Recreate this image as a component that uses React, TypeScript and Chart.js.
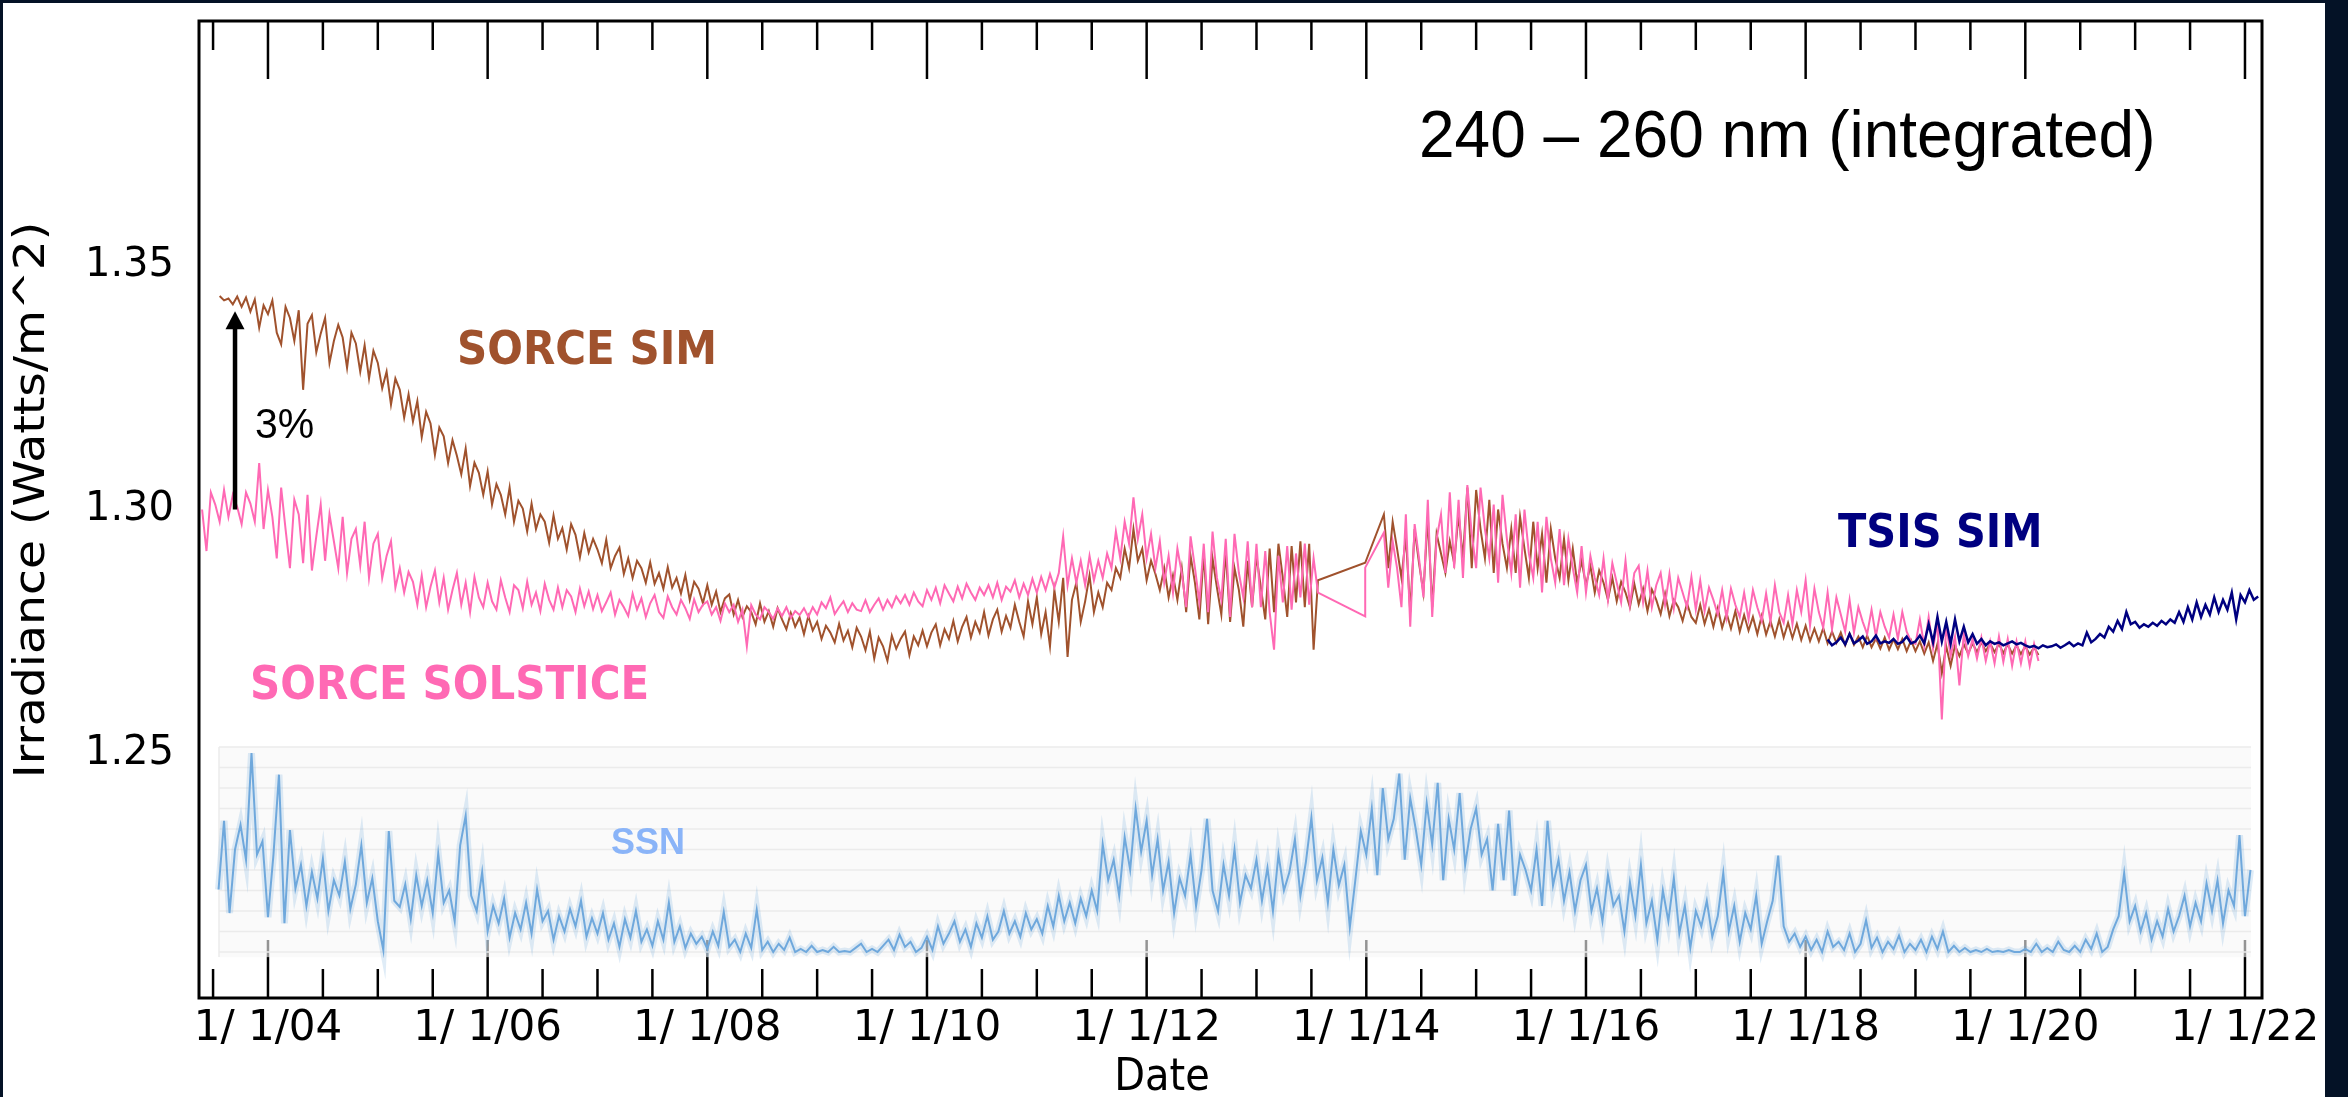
import React, { useEffect, useRef } from "react";
import Chart from "chart.js/auto";

// ---------- axis ranges / tick labels ----------
const X_MIN = 2003.372;
const X_MAX = 2022.155;
const Y_MIN = 1.2;
const Y_MAX = 1.4;
const X_LABEL_YEARS = [2004, 2006, 2008, 2010, 2012, 2014, 2016, 2018, 2020, 2022];
const Y_LABEL_VALUES = [1.25, 1.3, 1.35];

// ---------- SORCE SIM (W/m^2), cadence 0.04 yr ----------
const CADENCE = 0.04;
const SIM_START_1 = 2003.56;
const SIM_VALUES_1 = [
  1.3437, 1.3428, 1.3432, 1.3420, 1.3436, 1.3415, 1.3434, 1.3405, 1.3430, 1.3372, 1.3418,
  1.3400, 1.3428, 1.3362, 1.3338, 1.3415, 1.3392, 1.3345, 1.3408, 1.3245, 1.3380, 1.3398, 1.3322, 1.3360, 1.3392, 1.3300, 1.3345, 1.3378, 1.3352, 1.3290, 1.3362, 1.3340, 1.3282, 1.3336, 1.3268, 1.3325,
  1.3300, 1.3248, 1.3282, 1.3215, 1.3268, 1.3245, 1.3188, 1.3236, 1.3180, 1.3222, 1.3148, 1.3200, 1.3176, 1.3112, 1.3168, 1.3150, 1.3095, 1.3142, 1.3110, 1.3072, 1.3125, 1.3048, 1.3096, 1.3075, 1.3030,
  1.3078, 1.3010, 1.3052, 1.3030, 1.2990, 1.3045, 1.2975, 1.3018, 1.3002, 1.2955, 1.3012, 1.2960, 1.2990, 1.2975, 1.2932, 1.2988, 1.2940, 1.2962, 1.2918, 1.2970, 1.2948, 1.2902, 1.2952, 1.2912, 1.2940,
  1.2918, 1.2890, 1.2938, 1.2880, 1.2905, 1.2922, 1.2868, 1.2900, 1.2860, 1.2895, 1.2880, 1.2850, 1.2892, 1.2848, 1.2870, 1.2838, 1.2882, 1.2840, 1.2860, 1.2828, 1.2866, 1.2815, 1.2852, 1.2838, 1.2808,
  1.2845, 1.2805, 1.2832, 1.2790, 1.2818, 1.2826, 1.2785, 1.2815, 1.2780, 1.2802, 1.2790, 1.2765, 1.2808, 1.2770, 1.2792, 1.2760, 1.2798, 1.2775, 1.2755, 1.2788, 1.2760, 1.2779, 1.2745, 1.2782, 1.2752,
  1.2770, 1.2735, 1.2762, 1.2748, 1.2728, 1.2766, 1.2732, 1.2752, 1.2718, 1.2758, 1.2740, 1.2712, 1.2750, 1.2695, 1.2738, 1.2720, 1.2690, 1.2742, 1.2715, 1.2735, 1.2750, 1.2702, 1.2740, 1.2722, 1.2752,
  1.2720, 1.2748, 1.2765, 1.2722, 1.2755, 1.2735, 1.2772, 1.2730, 1.2760, 1.2780, 1.2738, 1.2770, 1.2748, 1.2790, 1.2742, 1.2775, 1.2795, 1.2750, 1.2782, 1.2758, 1.2805, 1.2770, 1.2740, 1.2812, 1.2765,
  1.2820, 1.2745, 1.2790, 1.2720, 1.2835, 1.2770, 1.2860, 1.2698, 1.2815, 1.2850, 1.2770, 1.2812, 1.2865, 1.2790, 1.2830, 1.2800, 1.2850, 1.2835, 1.2880, 1.2860, 1.2920, 1.2880, 1.2960, 1.2895, 1.2920,
  1.2855, 1.2895, 1.2868, 1.2835, 1.2880, 1.2820, 1.2865, 1.2815, 1.2880, 1.2790, 1.2905, 1.2850, 1.2775, 1.2910, 1.2765, 1.2900, 1.2840, 1.2785, 1.2915, 1.2770, 1.2880, 1.2835, 1.2760, 1.2895, 1.2800,
  1.2905, 1.2840, 1.2775, 1.2920, 1.2790, 1.2930, 1.2860, 1.2780, 1.2925, 1.2810, 1.2935, 1.2800, 1.2930, 1.2713, 1.2855,
];
const SIM_GAP_YEARS = [2013.99];
const SIM_GAP_VALUES = [1.2891];
const SIM_START_2 = 2014.16;
const SIM_VALUES_2 = [
  1.2990, 1.2880, 1.2975, 1.2920, 1.2860, 1.2945, 1.2790, 1.2960, 1.2890, 1.2830, 1.2985, 1.2800, 1.2950, 1.2910, 1.2870, 1.2935, 1.2890, 1.2990, 1.2900, 1.3045, 1.2880,
  1.3040, 1.2960, 1.2900, 1.3020, 1.2870, 1.3000, 1.2930, 1.2880, 1.2960, 1.2870, 1.2985, 1.2920, 1.2860, 1.2975, 1.2880, 1.2950, 1.2850, 1.2960, 1.2900, 1.2860, 1.2940, 1.2855, 1.2920, 1.2850, 1.2895,
  1.2845, 1.2885, 1.2830, 1.2875, 1.2850, 1.2815, 1.2860, 1.2812, 1.2852, 1.2830, 1.2800, 1.2848, 1.2806, 1.2838, 1.2792, 1.2836, 1.2815, 1.2786, 1.2828, 1.2782, 1.2815, 1.2800, 1.2772, 1.2808, 1.2780,
  1.2768, 1.2805, 1.2766, 1.2796, 1.2760, 1.2798, 1.2758, 1.2788, 1.2756, 1.2792, 1.2750, 1.2784, 1.2752, 1.2780, 1.2745, 1.2782, 1.2744, 1.2772, 1.2740, 1.2775, 1.2738, 1.2768, 1.2737, 1.2766, 1.2733,
  1.2762, 1.2731, 1.2756, 1.2730, 1.2757, 1.2726, 1.2750, 1.2727, 1.2748, 1.2722, 1.2746, 1.2723, 1.2740, 1.2718, 1.2742, 1.2718, 1.2736, 1.2715, 1.2738, 1.2713, 1.2734, 1.2714, 1.2735, 1.2710, 1.2732,
  1.2710, 1.2730, 1.2705, 1.2728, 1.2690, 1.2725, 1.2665, 1.2720, 1.2680, 1.2722, 1.2700, 1.2724, 1.2705, 1.2726, 1.2708, 1.2728, 1.2710, 1.2726, 1.2708, 1.2725, 1.2706, 1.2724, 1.2705, 1.2722, 1.2704,
  1.2720, 1.2703, 1.2718, 1.2702,
];

// ---------- SORCE SOLSTICE (W/m^2), cadence 0.04 yr ----------
const SOL_START_1 = 2003.4;
const SOL_VALUES_1 = [
  1.3000, 1.2915, 1.3035, 1.3010, 1.2975, 1.3040, 1.2985, 1.3030, 1.3005, 1.2970, 1.3035, 1.3012, 1.2975, 1.3095, 1.2960,
  1.3040, 1.2985, 1.2900, 1.3045, 1.2960, 1.2880, 1.3020, 1.2990, 1.2890, 1.3030, 1.2875, 1.2945, 1.3010, 1.2895, 1.2990, 1.2935, 1.2880, 1.2985, 1.2870, 1.2940, 1.2960, 1.2885, 1.2975, 1.2860, 1.2930,
  1.2950, 1.2860, 1.2905, 1.2935, 1.2840, 1.2880, 1.2830, 1.2872, 1.2852, 1.2805, 1.2865, 1.2800, 1.2842, 1.2875, 1.2810, 1.2860, 1.2795, 1.2835, 1.2870, 1.2805, 1.2850, 1.2790, 1.2862, 1.2820, 1.2800,
  1.2850, 1.2812, 1.2795, 1.2855, 1.2820, 1.2790, 1.2845, 1.2835, 1.2798, 1.2852, 1.2805, 1.2830, 1.2792, 1.2848, 1.2815, 1.2795, 1.2840, 1.2800, 1.2835, 1.2822, 1.2790, 1.2838, 1.2802, 1.2832, 1.2796,
  1.2825, 1.2792, 1.2810, 1.2830, 1.2785, 1.2815, 1.2800, 1.2782, 1.2828, 1.2795, 1.2818, 1.2780, 1.2808, 1.2825, 1.2790, 1.2778, 1.2822, 1.2800, 1.2785, 1.2815, 1.2798, 1.2776, 1.2816, 1.2790, 1.2805,
  1.2812, 1.2785, 1.2800, 1.2772, 1.2808, 1.2790, 1.2805, 1.2770, 1.2795, 1.2720, 1.2804, 1.2785, 1.2775, 1.2800, 1.2790, 1.2776, 1.2798, 1.2782, 1.2800, 1.2778, 1.2792, 1.2784, 1.2798, 1.2780, 1.2800,
  1.2785, 1.2810, 1.2798, 1.2820, 1.2786, 1.2800, 1.2812, 1.2790, 1.2808, 1.2795, 1.2792, 1.2814, 1.2790, 1.2805, 1.2818, 1.2795, 1.2815, 1.2800, 1.2822, 1.2808, 1.2825, 1.2805, 1.2830, 1.2812, 1.2802,
  1.2835, 1.2815, 1.2840, 1.2808, 1.2845, 1.2828, 1.2812, 1.2842, 1.2818, 1.2848, 1.2830, 1.2815, 1.2840, 1.2825, 1.2845, 1.2820, 1.2850, 1.2815, 1.2842, 1.2832, 1.2855, 1.2820, 1.2848, 1.2825, 1.2858,
  1.2830, 1.2862, 1.2835, 1.2868, 1.2840, 1.2870, 1.2945, 1.2845, 1.2900, 1.2850, 1.2895, 1.2845, 1.2905, 1.2855, 1.2895, 1.2860, 1.2910, 1.2880, 1.2955, 1.2900, 1.2975, 1.2930, 1.3025, 1.2940, 1.2990,
  1.2900, 1.2950, 1.2880, 1.2935, 1.2850, 1.2905, 1.2830, 1.2920, 1.2870, 1.2800, 1.2945, 1.2880, 1.2810, 1.2930, 1.2790, 1.2955, 1.2860, 1.2815, 1.2940, 1.2780, 1.2950, 1.2870, 1.2820, 1.2935, 1.2800,
  1.2930, 1.2800, 1.2915, 1.2790, 1.2713, 1.2905, 1.2810, 1.2925, 1.2795, 1.2910, 1.2820, 1.2930, 1.2805, 1.2900, 1.2830,
];
const SOL_GAP_YEARS = [2013.99, 2013.99];
const SOL_GAP_VALUES = [1.2781, 1.2881];
const SOL_START_2 = 2014.16;
const SOL_VALUES_2 = [
  1.2953, 1.2840, 1.2935, 1.2880, 1.2800, 1.2990, 1.2760, 1.2970, 1.2900, 1.2820, 1.3020, 1.2780, 1.2940, 1.2990, 1.2870, 1.3035, 1.2880, 1.3020, 1.2860, 1.3050, 1.2950,
  1.2880, 1.3045, 1.2960, 1.2900, 1.3010, 1.2850, 1.3030, 1.2940, 1.2870, 1.2990, 1.2840, 1.3000, 1.2910, 1.2860, 1.2975, 1.2830, 1.2985, 1.2900, 1.2850, 1.2960, 1.2845, 1.2940, 1.2880, 1.2830, 1.2925,
  1.2830, 1.2905, 1.2860, 1.2825, 1.2900, 1.2815, 1.2890, 1.2850, 1.2810, 1.2895, 1.2805, 1.2870, 1.2885, 1.2810, 1.2875, 1.2800, 1.2845, 1.2870, 1.2805, 1.2868, 1.2798, 1.2860, 1.2830, 1.2800, 1.2862,
  1.2795, 1.2855, 1.2792, 1.2840, 1.2815, 1.2785, 1.2835, 1.2778, 1.2838, 1.2805, 1.2780, 1.2830, 1.2775, 1.2835, 1.2800, 1.2772, 1.2828, 1.2770, 1.2845, 1.2790, 1.2768, 1.2825, 1.2765, 1.2835, 1.2790,
  1.2855, 1.2762, 1.2838, 1.2790, 1.2758, 1.2830, 1.2755, 1.2820, 1.2785, 1.2750, 1.2815, 1.2748, 1.2800, 1.2770, 1.2745, 1.2795, 1.2740, 1.2790, 1.2760, 1.2738, 1.2785, 1.2735, 1.2790, 1.2750, 1.2730,
  1.2725, 1.2775, 1.2720, 1.2780, 1.2715, 1.2770, 1.2570, 1.2765, 1.2700, 1.2740, 1.2640, 1.2745, 1.2700, 1.2735, 1.2695, 1.2738, 1.2690, 1.2730, 1.2685, 1.2740, 1.2688, 1.2735, 1.2680, 1.2730, 1.2685,
  1.2730, 1.2680, 1.2725, 1.2690,
];

// ---------- TSIS SIM (W/m^2), cadence 0.04 yr ----------
const TSIS_START = 2018.2;
const TSIS_VALUES = [
  1.2734, 1.2722, 1.2728, 1.2738, 1.2724, 1.2745, 1.2726, 1.2732, 1.2740, 1.2725, 1.2730, 1.2742, 1.2726, 1.2730, 1.2727, 1.2735, 1.2725, 1.2729, 1.2740, 1.2726,
  1.2730, 1.2742, 1.2726, 1.2765, 1.2728, 1.2780, 1.2730, 1.2770, 1.2725, 1.2775, 1.2730, 1.2760, 1.2728, 1.2745, 1.2725, 1.2735, 1.2722, 1.2730, 1.2725, 1.2728, 1.2722, 1.2726, 1.2730, 1.2724, 1.2727,
  1.2722, 1.2718, 1.2721, 1.2716, 1.2722, 1.2718, 1.2720, 1.2724, 1.2717, 1.2722, 1.2728, 1.2720, 1.2726, 1.2722, 1.2748, 1.2728, 1.2735, 1.2745, 1.2738, 1.2760, 1.2750, 1.2772, 1.2755, 1.2790, 1.2765,
  1.2770, 1.2758, 1.2765, 1.2760, 1.2768, 1.2762, 1.2772, 1.2765, 1.2775, 1.2768, 1.2790, 1.2770, 1.2800, 1.2775, 1.2810, 1.2780, 1.2805, 1.2785, 1.2820, 1.2790, 1.2815, 1.2795, 1.2830, 1.2775, 1.2825,
  1.2810, 1.2835, 1.2815, 1.2822,
];

// ---------- Sunspot number (inset), cadence 0.05 yr ----------
const SSN_START = 2003.55;
const SSN_CADENCE = 0.05;
const SSN_VALUES = [
  61, 128, 38, 100, 124, 90, 194, 95, 108,
  34, 95, 173, 28, 119, 62, 85, 45, 78, 52, 91, 40, 70, 55, 88, 42, 66, 104, 48, 72,
  30, 2, 118, 50, 44, 66, 32, 75, 45, 70, 38, 96, 48, 60, 30, 104, 133, 55, 40, 78,
  20, 45, 28, 52, 14, 38, 22, 48, 18, 61, 30, 40, 12, 35, 20, 42, 25, 50, 15, 33,
  18, 38, 12, 28, 5, 32, 14, 40, 10, 22, 6, 30, 12, 48, 10, 25, 4, 18, 8, 15,
  3, 20, 6, 39, 5, 12, 0, 18, 4, 41, 2, 10, 0, 8, 2, 14, 0, 3, 0, 6,
  0, 2, 0, 5, 0, 1, 0, 4, 8, 0, 3, 0, 6, 12, 2, 17, 5, 10, 0, 4,
  15, 2, 25, 8, 18, 30, 10, 22, 5, 28, 14, 35, 12, 20, 40, 18, 30, 15, 38, 22,
  32, 18, 45, 25, 55, 30, 48, 28, 52, 35, 60, 40, 105, 70, 90, 55, 112, 80, 140, 98,
  128, 75, 110, 60, 88, 38, 72, 55, 95, 45, 80, 130, 60, 40, 85, 55, 100, 48, 75, 62,
  90, 50, 82, 40, 95, 60, 78, 110, 55, 88, 131, 70, 92, 48, 100, 65, 85, 24, 70, 118,
  95, 140, 75, 160, 110, 130, 174, 90, 150, 120, 85, 145, 105, 165, 70, 130, 100, 155, 85, 120,
  140, 95, 110, 60, 125, 70, 138, 55, 95, 80, 60, 100, 45, 128, 65, 90, 50, 78, 40, 70,
  85, 40, 62, 30, 75, 45, 55, 20, 68, 35, 85, 28, 50, 12, 60, 30, 72, 18, 45, 4,
  40, 25, 50, 15, 35, 77, 20, 45, 10, 38, 22, 55, 8, 30, 50, 94, 25, 10, 18, 5,
  15, 2, 12, 0, 20, 5, 10, 2, 18, 0, 8, 31, 4, 14, 0, 10, 3, 16, 0, 8,
  2, 12, 0, 15, 3, 20, 0, 6, 0, 4, 0, 2, 0, 3, 0, 1, 0, 2, 0, 0,
  3, 0, 8, 0, 4, 0, 10, 2, 0, 6, 0, 12, 3, 18, 0, 5, 22, 35, 77, 30,
  45, 20, 38, 12, 30, 15, 42, 20, 35, 55, 25, 48, 30, 67, 40, 70, 28, 60, 45, 114,
  35, 80,
];

// ---------- layout constants (pixels / placement) ----------
const W = 2348;
const H = 1097;
const SSN_AXIS_MIN = -44.88;
const SSN_AXIS_MAX = 908.29;
const PANEL_YEARS = [2003.554, 2022.055];
const PANEL_SSN = [-5, 200];
const ARROW_YEAR = 2003.7;
const ARROW_FROM = 1.3;
const ARROW_TO = 1.3406;

const toPoints = (start: number, step: number, vals: number[]) =>
  vals.map((v, i) => ({ x: +(start + i * step).toFixed(4), y: v }));
const pairPoints = (xs: number[], ys: number[]) => xs.map((x, i) => ({ x, y: ys[i] }));

function stretchedText(
  ctx: CanvasRenderingContext2D,
  text: string,
  x: number,
  y: number,
  font: string,
  color: string,
  sy: number,
  align: CanvasTextAlign = "left"
) {
  ctx.save();
  ctx.translate(x, y);
  ctx.scale(1, sy);
  ctx.font = font;
  ctx.fillStyle = color;
  ctx.textAlign = align;
  ctx.textBaseline = "alphabetic";
  ctx.fillText(text, 0, 0);
  ctx.restore();
}

const framePlugin = {
  id: "framePlugin",
  beforeDraw(chart: any) {
    const ctx = chart.ctx as CanvasRenderingContext2D;
    ctx.save();
    ctx.fillStyle = "#041226";
    ctx.fillRect(0, 0, W, H);
    ctx.fillStyle = "#ffffff";
    ctx.fillRect(3, 3, 2322, H - 3);
    ctx.restore();
  },
  beforeDatasetsDraw(chart: any) {
    const ctx = chart.ctx as CanvasRenderingContext2D;
    const a = chart.chartArea;
    const xs = chart.scales.x;
    const ys = chart.scales.y;
    const ss = chart.scales.ssn;
    ctx.save();
    ctx.strokeStyle = "#000";
    ctx.lineWidth = 2.5;
    const seg = (x1: number, y1: number, x2: number, y2: number) => {
      ctx.beginPath();
      ctx.moveTo(x1, y1);
      ctx.lineTo(x2, y2);
      ctx.stroke();
    };
    // x ticks every half year, inward, top & bottom
    for (let k = 0; k <= 37; k++) {
      const t = 2003.5 + k * 0.5;
      if (t > X_MAX) break;
      const px = xs.getPixelForValue(t);
      const major = X_LABEL_YEARS.indexOf(t) >= 0;
      const len = major ? 58 : 29;
      seg(px, a.bottom, px, a.bottom - len);
      seg(px, a.top, px, a.top + len);
    }
    // y ticks every 0.01, inward, left & right
    for (let k = 21; k <= 39; k++) {
      const py = ys.getPixelForValue(k / 100);
      const len = k % 5 === 0 ? 58 : 29;
      seg(a.left, py, a.left + len, py);
      seg(a.right, py, a.right - len, py);
    }
    ctx.lineWidth = 3;
    ctx.strokeRect(a.left, a.top, a.right - a.left, a.bottom - a.top);

    // SSN inset panel (semi-opaque) with its own grid
    const pl = xs.getPixelForValue(PANEL_YEARS[0]);
    const pr = xs.getPixelForValue(PANEL_YEARS[1]);
    const pt = ss.getPixelForValue(PANEL_SSN[1]);
    const pb = ss.getPixelForValue(PANEL_SSN[0]);
    ctx.fillStyle = "rgba(246,246,246,0.6)";
    ctx.fillRect(pl, pt, pr - pl, pb - pt);
    ctx.strokeStyle = "#ebebeb";
    ctx.lineWidth = 1.5;
    for (let v = 0; v <= 200; v += 20) {
      const py = ss.getPixelForValue(v);
      seg(pl, py, pr, py);
    }
    seg(pl, pt, pl, pb);
    ctx.restore();
  },
  afterDatasetsDraw(chart: any) {
    const ctx = chart.ctx as CanvasRenderingContext2D;
    const xs = chart.scales.x;
    const ys = chart.scales.y;
    ctx.save();
    // title
    stretchedText(ctx, "240 \u2013 260 nm (integrated)", 1419, 157, "64px 'Liberation Sans'", "#000", 1.04);
    // series labels
    stretchedText(ctx, "SORCE SIM", 457, 364, "bold 42px 'DejaVu Sans'", "#a0522d", 1.1);
    stretchedText(ctx, "SORCE SOLSTICE", 250, 699, "bold 42px 'DejaVu Sans'", "#ff69b4", 1.1);
    stretchedText(ctx, "TSIS SIM", 1838, 547, "bold 41.5px 'DejaVu Sans'", "#000080", 1.1);
    stretchedText(ctx, "SSN", 611, 854, "bold 36px 'Liberation Sans'", "#8ab4f8", 1.05);
    stretchedText(ctx, "3%", 255, 438, "41px 'Liberation Sans'", "#000", 1.04);
    // arrow (3% change)
    const ax = xs.getPixelForValue(ARROW_YEAR);
    const y0 = ys.getPixelForValue(ARROW_FROM);
    const y1 = ys.getPixelForValue(ARROW_TO);
    ctx.strokeStyle = "#000";
    ctx.fillStyle = "#000";
    ctx.lineWidth = 4.5;
    ctx.beginPath();
    ctx.moveTo(ax, y0);
    ctx.lineTo(ax, y1 + 14);
    ctx.stroke();
    ctx.beginPath();
    ctx.moveTo(ax, y1);
    ctx.lineTo(ax - 9.5, y1 + 18);
    ctx.lineTo(ax + 9.5, y1 + 18);
    ctx.closePath();
    ctx.fill();
    // axis titles
    ctx.save();
    ctx.translate(33, 500);
    ctx.scale(1, 1.1);
    ctx.rotate(-Math.PI / 2);
    ctx.font = "43px 'DejaVu Sans'";
    ctx.fillStyle = "#000";
    ctx.textAlign = "center";
    ctx.textBaseline = "middle";
    ctx.fillText("Irradiance (Watts/m^2)", 0, 0);
    ctx.restore();
    stretchedText(ctx, "Date", 1162, 1090, "40px 'DejaVu Sans'", "#000", 1.1, "center");
    ctx.restore();
  },
};

export default function App() {
  const ref = useRef<HTMLCanvasElement>(null);
  useEffect(() => {
    document.body.style.margin = "0";
    document.body.style.background = "#041226";
    const simPoints = [
      ...toPoints(SIM_START_1, CADENCE, SIM_VALUES_1),
      ...pairPoints(SIM_GAP_YEARS, SIM_GAP_VALUES),
      ...toPoints(SIM_START_2, CADENCE, SIM_VALUES_2),
    ];
    const solPoints = [
      ...toPoints(SOL_START_1, CADENCE, SOL_VALUES_1),
      ...pairPoints(SOL_GAP_YEARS, SOL_GAP_VALUES),
      ...toPoints(SOL_START_2, CADENCE, SOL_VALUES_2),
    ];
    const tsisPoints = toPoints(TSIS_START, CADENCE, TSIS_VALUES);
    const ssnPoints = toPoints(SSN_START, SSN_CADENCE, SSN_VALUES);

    const chart = new Chart(ref.current!, {
      type: "line",
      data: {
        datasets: [
          { label: "TSIS SIM", data: tsisPoints, borderColor: "#000080", borderWidth: 2.5, order: 0, yAxisID: "y" },
          { label: "SORCE SOLSTICE", data: solPoints, borderColor: "#ff69b4", borderWidth: 2, order: 1, yAxisID: "y" },
          { label: "SORCE SIM", data: simPoints, borderColor: "#a0522d", borderWidth: 2, order: 2, yAxisID: "y" },
          { label: "SSN", data: ssnPoints, borderColor: "#6fa8dc", borderWidth: 2, order: 3, yAxisID: "ssn" },
          { label: "SSN band", data: ssnPoints, borderColor: "rgba(111,168,220,0.22)", borderWidth: 7, order: 4, yAxisID: "ssn" },
        ],
      },
      options: {
        responsive: false,
        animation: false,
        devicePixelRatio: 1,
        layout: { padding: { left: 0, top: 21, right: 86, bottom: 0 } },
        elements: { point: { radius: 0 }, line: { tension: 0 } },
        plugins: { legend: { display: false }, tooltip: { enabled: false } },
        scales: {
          x: {
            type: "linear",
            position: "bottom",
            min: X_MIN,
            max: X_MAX,
            grid: { display: false, drawTicks: false, tickLength: 0 },
            border: { display: false },
            afterBuildTicks: (axis: any) => {
              axis.ticks = X_LABEL_YEARS.map((v) => ({ value: v }));
            },
            afterFit: (axis: any) => {
              axis.height = 99;
              axis.paddingLeft = 0;
              axis.paddingRight = 0;
            },
            ticks: {
              autoSkip: false,
              maxRotation: 0,
              minRotation: 0,
              padding: 6,
              color: "#000",
              font: { family: "'DejaVu Sans'", size: 42 },
              callback: (v: any) => `1/ 1/${String(Number(v) % 100).padStart(2, "0")}`,
            },
          },
          y: {
            type: "linear",
            position: "left",
            min: Y_MIN,
            max: Y_MAX,
            grid: { display: false, drawTicks: false, tickLength: 0 },
            border: { display: false },
            afterBuildTicks: (axis: any) => {
              axis.ticks = Y_LABEL_VALUES.map((v) => ({ value: v }));
            },
            afterFit: (axis: any) => {
              axis.width = 199;
              axis.paddingTop = 0;
              axis.paddingBottom = 0;
            },
            ticks: {
              padding: 25,
              color: "#000",
              font: { family: "'DejaVu Sans'", size: 40 },
              callback: (v: any) => Number(v).toFixed(2),
            },
          },
          ssn: {
            type: "linear",
            display: false,
            min: SSN_AXIS_MIN,
            max: SSN_AXIS_MAX,
          },
        },
      },
      plugins: [framePlugin],
    } as any);
    return () => chart.destroy();
  }, []);
  return (
    <div style={{ width: W, height: H }}>
      <canvas ref={ref} width={W} height={H} style={{ display: "block", width: W, height: H }} />
    </div>
  );
}
